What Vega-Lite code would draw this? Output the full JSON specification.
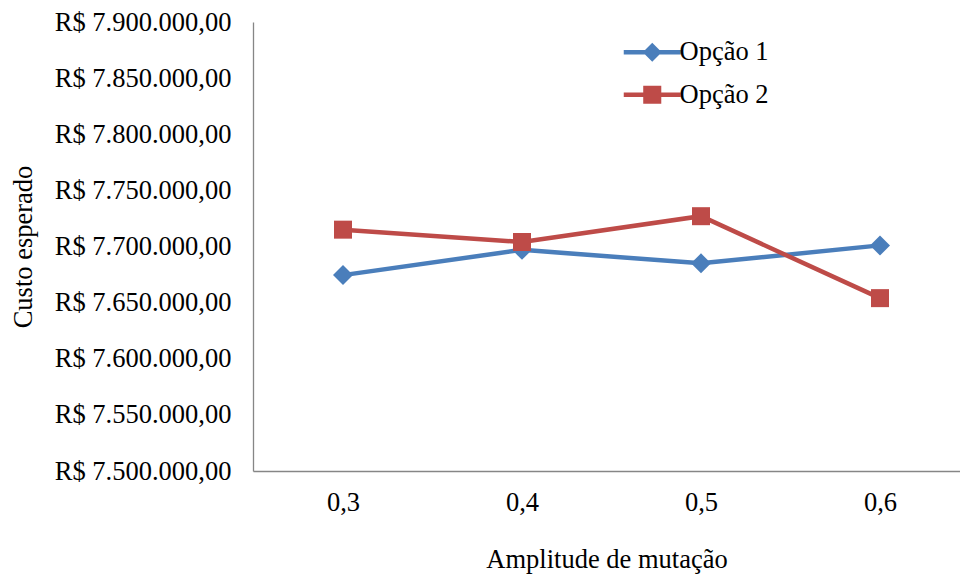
{
  "$schema": "https://vega.github.io/schema/vega-lite/v6.json",
  "width": 707,
  "height": 449,
  "autosize": {"type": "none"},
  "padding": {"left": 253, "top": 22, "right": 0, "bottom": 106},
  "background": "white",
  "config": {
    "locale": {"number": {"decimal": ",", "thousands": ".", "grouping": [3], "currency": ["R$ ", ""]}},
    "view": {"stroke": null},
    "font": "Liberation Serif"
  },
  "data": {"values": [
    {"amp": 0.3, "serie": "Opção 1", "custo": 7674500},
    {"amp": 0.4, "serie": "Opção 1", "custo": 7697000},
    {"amp": 0.5, "serie": "Opção 1", "custo": 7685000},
    {"amp": 0.6, "serie": "Opção 1", "custo": 7701000},
    {"amp": 0.3, "serie": "Opção 2", "custo": 7715000},
    {"amp": 0.4, "serie": "Opção 2", "custo": 7704000},
    {"amp": 0.5, "serie": "Opção 2", "custo": 7727000},
    {"amp": 0.6, "serie": "Opção 2", "custo": 7654000}
  ]},
  "encoding": {
    "x": {
      "field": "amp", "type": "quantitative",
      "scale": {"domain": [0.249721, 0.644693], "zero": false, "nice": false},
      "axis": {
        "title": "Amplitude de mutação", "format": ".1f", "values": [0.3, 0.4, 0.5, 0.6],
        "labelAngle": 0, "ticks": false, "grid": false, "labelFlush": false, "labelOverlap": false,
        "domainColor": "#868686", "domainWidth": 1.3,
        "labelFontSize": 26.5, "labelFont": "Liberation Serif", "labelColor": "black", "labelPadding": 18,
        "titleFontSize": 26.5, "titleFont": "Liberation Serif", "titleFontWeight": "normal", "titleColor": "black", "titlePadding": 31
      }
    },
    "y": {
      "field": "custo", "type": "quantitative",
      "scale": {"domain": [7500000, 7900000], "zero": false, "nice": false},
      "axis": {
        "title": "Custo esperado", "format": "$,.2f",
        "values": [7500000, 7550000, 7600000, 7650000, 7700000, 7750000, 7800000, 7850000, 7900000],
        "ticks": false, "grid": false, "labelFlush": false, "labelOverlap": false,
        "domainColor": "#868686", "domainWidth": 1.3,
        "labelFontSize": 26.5, "labelFont": "Liberation Serif", "labelColor": "black", "labelPadding": 22,
        "titleFontSize": 26.5, "titleFont": "Liberation Serif", "titleFontWeight": "normal", "titleColor": "black", "titlePadding": 17
      }
    },
    "color": {
      "field": "serie", "type": "nominal",
      "scale": {"domain": ["Opção 1", "Opção 2"], "range": ["#4A7EBB", "#BE4B48"]},
      "legend": {
        "title": null, "orient": "none", "legendX": 386, "legendY": 17, "direction": "vertical",
        "padding": 0, "labelFontSize": 26.5, "labelFont": "Liberation Serif", "labelColor": "black",
        "symbolSize": 361, "labelOffset": 14, "rowPadding": 15.5, "symbolStrokeWidth": 0,
        "encode": {
          "symbols": {
            "update": {
              "shape": {"signal": "datum.value === 'Opção 1' ? 'M-3,-0.24H-0.76L0,-1L0.76,-0.24H3V0.24H0.76L0,1L-0.76,0.24H-3Z' : 'M-3,-0.24H-0.95V-0.95H0.95V-0.24H3V0.24H0.95V0.95H-0.95V0.24H-3Z'"},
              "fill": {"scale": "color", "field": "value"},
              "fillOpacity": {"value": 1},
              "opacity": {"value": 1},
              "strokeWidth": {"value": 0}
            }
          }
        }
      }
    }
  },
  "layer": [
    {"mark": {"type": "line", "strokeWidth": 4.5}},
    {
      "transform": [{"filter": "datum.serie === 'Opção 1'"}],
      "mark": {"type": "point", "filled": true, "opacity": 1, "shape": "diamond", "size": 400}
    },
    {
      "transform": [{"filter": "datum.serie === 'Opção 2'"}],
      "mark": {"type": "point", "filled": true, "opacity": 1, "shape": "square", "size": 324}
    }
  ]
}
